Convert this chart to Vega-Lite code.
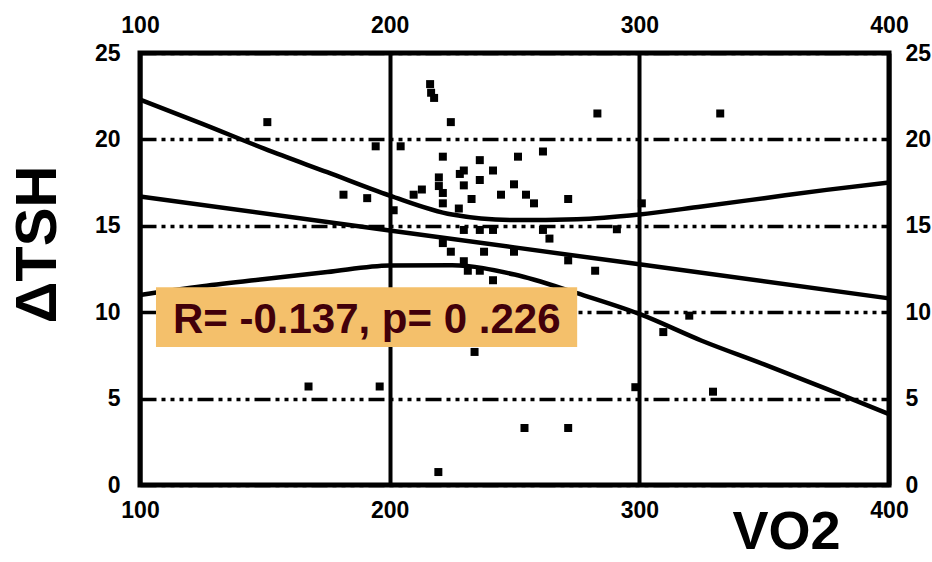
{
  "$schema": "https://vega.github.io/schema/vega-lite/v6.json",
  "width": 749,
  "height": 432,
  "autosize": {"type": "none"},
  "padding": {"left": 140, "top": 53, "right": 43, "bottom": 77},
  "background": "white",
  "config": {
    "view": {"stroke": "black", "strokeWidth": 5},
    "font": "Liberation Sans"
  },
  "datasets": {
    "points": [
      {"VO2": 151, "dTSH": 21.0}, {"VO2": 181.5, "dTSH": 16.8}, {"VO2": 191, "dTSH": 16.6},
      {"VO2": 194.4, "dTSH": 19.6}, {"VO2": 204.4, "dTSH": 19.6}, {"VO2": 216.2, "dTSH": 23.2},
      {"VO2": 216.6, "dTSH": 22.7}, {"VO2": 217.8, "dTSH": 22.4}, {"VO2": 224.5, "dTSH": 21.0},
      {"VO2": 283.2, "dTSH": 21.5}, {"VO2": 332.4, "dTSH": 21.5}, {"VO2": 221.3, "dTSH": 19.0},
      {"VO2": 236.1, "dTSH": 18.8}, {"VO2": 251.4, "dTSH": 19.0}, {"VO2": 261.4, "dTSH": 19.3},
      {"VO2": 229.7, "dTSH": 18.2}, {"VO2": 241.4, "dTSH": 18.2}, {"VO2": 219.7, "dTSH": 17.8},
      {"VO2": 219.7, "dTSH": 17.3}, {"VO2": 221.3, "dTSH": 16.9}, {"VO2": 228.1, "dTSH": 18.0},
      {"VO2": 229.7, "dTSH": 17.34}, {"VO2": 236.1, "dTSH": 17.65}, {"VO2": 249.8, "dTSH": 17.4},
      {"VO2": 209.6, "dTSH": 16.8}, {"VO2": 212.9, "dTSH": 17.1}, {"VO2": 232.8, "dTSH": 16.55},
      {"VO2": 244.6, "dTSH": 16.8}, {"VO2": 254.6, "dTSH": 16.8}, {"VO2": 257.8, "dTSH": 16.3},
      {"VO2": 271.5, "dTSH": 16.55}, {"VO2": 221.3, "dTSH": 16.3}, {"VO2": 227.7, "dTSH": 16.0},
      {"VO2": 201.6, "dTSH": 15.9}, {"VO2": 301, "dTSH": 16.3}, {"VO2": 229.7, "dTSH": 14.76},
      {"VO2": 236.1, "dTSH": 14.76}, {"VO2": 241.4, "dTSH": 14.76}, {"VO2": 261.4, "dTSH": 14.76},
      {"VO2": 264, "dTSH": 14.26}, {"VO2": 221.3, "dTSH": 14.0}, {"VO2": 224.5, "dTSH": 13.5},
      {"VO2": 237.8, "dTSH": 13.5}, {"VO2": 249.8, "dTSH": 13.5}, {"VO2": 271.5, "dTSH": 13.0},
      {"VO2": 282.3, "dTSH": 12.4}, {"VO2": 229.7, "dTSH": 12.95}, {"VO2": 231.3, "dTSH": 12.4},
      {"VO2": 236.1, "dTSH": 12.4}, {"VO2": 241.4, "dTSH": 11.85}, {"VO2": 291, "dTSH": 14.8},
      {"VO2": 234, "dTSH": 7.7}, {"VO2": 167.5, "dTSH": 5.7}, {"VO2": 196, "dTSH": 5.7},
      {"VO2": 298.4, "dTSH": 5.66}, {"VO2": 329.5, "dTSH": 5.4}, {"VO2": 254, "dTSH": 3.3},
      {"VO2": 271.5, "dTSH": 3.3}, {"VO2": 219.5, "dTSH": 0.75}, {"VO2": 320, "dTSH": 9.8},
      {"VO2": 309.6, "dTSH": 8.85}
    ],
    "lines": [
      {"band": "fit", "VO2": 100, "dTSH": 16.7}, {"band": "fit", "VO2": 200, "dTSH": 14.73},
      {"band": "fit", "VO2": 300, "dTSH": 12.77}, {"band": "fit", "VO2": 400, "dTSH": 10.8},
      {"band": "upper", "VO2": 100, "dTSH": 22.3}, {"band": "upper", "VO2": 125, "dTSH": 20.9},
      {"band": "upper", "VO2": 150, "dTSH": 19.45}, {"band": "upper", "VO2": 175, "dTSH": 18.1},
      {"band": "upper", "VO2": 200, "dTSH": 16.75}, {"band": "upper", "VO2": 225, "dTSH": 15.65},
      {"band": "upper", "VO2": 250, "dTSH": 15.33}, {"band": "upper", "VO2": 275, "dTSH": 15.38},
      {"band": "upper", "VO2": 300, "dTSH": 15.65}, {"band": "upper", "VO2": 325, "dTSH": 16.12},
      {"band": "upper", "VO2": 350, "dTSH": 16.6}, {"band": "upper", "VO2": 375, "dTSH": 17.08},
      {"band": "upper", "VO2": 400, "dTSH": 17.5},
      {"band": "lower", "VO2": 100, "dTSH": 11.0}, {"band": "lower", "VO2": 125, "dTSH": 11.5},
      {"band": "lower", "VO2": 150, "dTSH": 11.92}, {"band": "lower", "VO2": 175, "dTSH": 12.32},
      {"band": "lower", "VO2": 200, "dTSH": 12.7}, {"band": "lower", "VO2": 225, "dTSH": 12.72},
      {"band": "lower", "VO2": 250, "dTSH": 12.18}, {"band": "lower", "VO2": 275, "dTSH": 11.1},
      {"band": "lower", "VO2": 300, "dTSH": 9.9}, {"band": "lower", "VO2": 325, "dTSH": 8.35},
      {"band": "lower", "VO2": 350, "dTSH": 6.98}, {"band": "lower", "VO2": 375, "dTSH": 5.56},
      {"band": "lower", "VO2": 400, "dTSH": 4.1}
    ],
    "box": [
      {"x1": 106.4, "x2": 275.1, "y1": 11.45, "y2": 7.98, "cx": 190.8, "cy": 8.8, "label": "R= -0.137, p= 0 .226"}
    ]
  },
  "layer": [
    {
      "data": {"name": "lines"},
      "mark": {"type": "line", "color": "black", "strokeWidth": 4.5, "interpolate": "monotone"},
      "encoding": {
        "x": {
          "field": "VO2", "type": "quantitative",
          "scale": {"domain": [100, 400], "nice": false, "zero": false},
          "axis": {
            "orient": "top", "values": [100, 200, 300, 400], "title": null,
            "grid": false, "domain": false, "ticks": false,
            "labelFontSize": 23, "labelFontWeight": "bold", "labelColor": "black",
            "labelPadding": 16, "labelFlush": false
          }
        },
        "y": {
          "field": "dTSH", "type": "quantitative",
          "scale": {"domain": [0, 25], "nice": false, "zero": false},
          "axis": {
            "orient": "right", "values": [0, 5, 10, 15, 20, 25], "title": null,
            "grid": false, "domain": false, "ticks": false,
            "labelFontSize": 23, "labelFontWeight": "bold", "labelColor": "black",
            "labelPadding": 16, "labelFlush": false
          }
        },
        "detail": {"field": "band"}
      }
    },
    {
      "data": {"name": "points"},
      "mark": {"type": "point", "shape": "square", "filled": true, "color": "black", "size": 64, "opacity": 1},
      "encoding": {
        "x": {
          "field": "VO2", "type": "quantitative",
          "scale": {"domain": [100, 400], "nice": false, "zero": false},
          "axis": {
            "orient": "bottom", "values": [100, 200, 300, 400], "title": "VO2",
            "grid": true, "gridColor": "black", "gridWidth": 4, "gridOpacity": 1,
            "domain": false, "ticks": false,
            "labelFontSize": 23, "labelFontWeight": "bold", "labelColor": "black",
            "labelPadding": 14, "labelFlush": false,
            "titleFontSize": 54, "titleFontWeight": "bold", "titleColor": "black",
            "titleX": 700, "titleY": 63, "titleAlign": "right", "titleBaseline": "alphabetic"
          }
        },
        "y": {
          "field": "dTSH", "type": "quantitative",
          "scale": {"domain": [0, 25], "nice": false, "zero": false},
          "axis": {
            "orient": "left", "values": [0, 5, 10, 15, 20, 25], "title": "ΔTSH",
            "grid": true, "gridColor": "black", "gridWidth": 3.5, "gridOpacity": 1,
            "gridDash": [16, 5, 4, 5, 4, 5, 4, 5, 4, 5],
            "domain": false, "ticks": false,
            "labelFontSize": 23, "labelFontWeight": "bold", "labelColor": "black",
            "labelPadding": 20, "labelFlush": false,
            "titleFontSize": 58, "titleFontWeight": "bold", "titleColor": "black",
            "titleAngle": -90, "titleX": -85, "titleY": 191, "titleAlign": "center", "titleBaseline": "alphabetic"
          }
        }
      }
    },
    {
      "data": {"name": "box"},
      "mark": {"type": "rect", "color": "#F4C06B"},
      "encoding": {
        "x": {"field": "x1", "type": "quantitative", "axis": null},
        "x2": {"field": "x2"},
        "y": {"field": "y1", "type": "quantitative", "axis": null},
        "y2": {"field": "y2"}
      }
    },
    {
      "data": {"name": "box"},
      "mark": {"type": "text", "color": "#42000A", "fontSize": 42, "fontWeight": "bold", "align": "center", "baseline": "alphabetic", "font": "Liberation Sans"},
      "encoding": {
        "x": {"field": "cx", "type": "quantitative", "axis": null},
        "y": {"field": "cy", "type": "quantitative", "axis": null},
        "text": {"field": "label"}
      }
    }
  ],
  "resolve": {"axis": {"x": "independent", "y": "independent"}}
}
